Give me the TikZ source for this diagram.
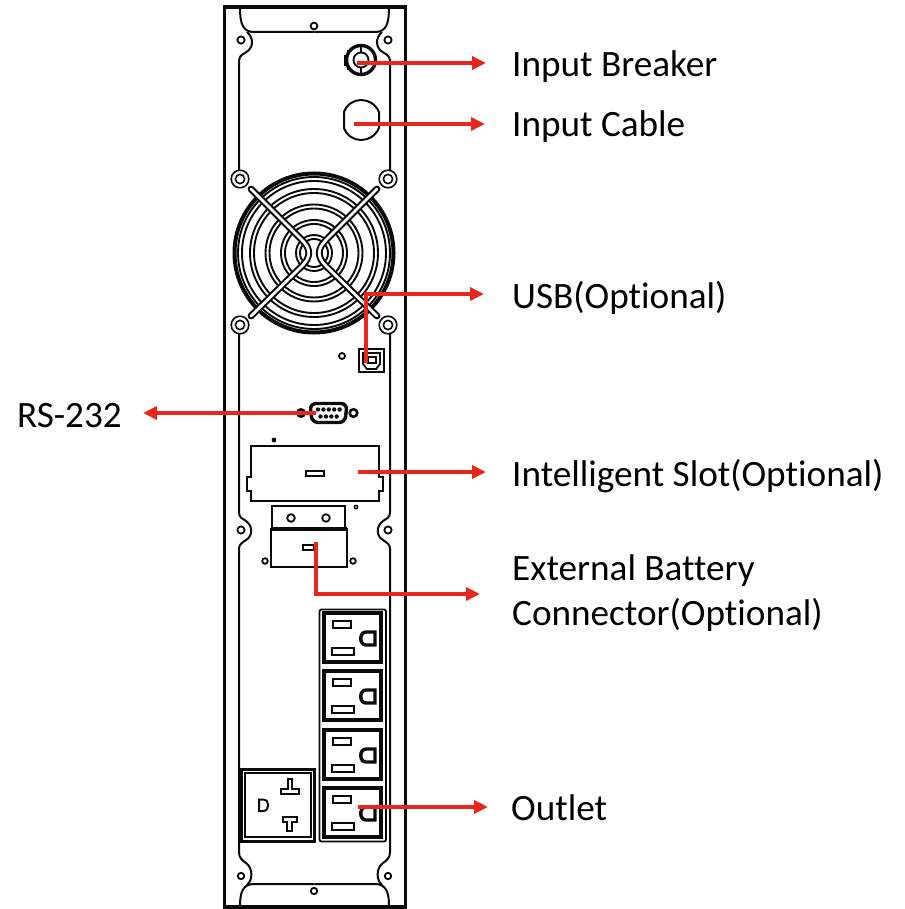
\documentclass[tikz,border=0pt]{standalone}
\usepackage{fontspec}
\setmainfont[Ligatures=NoCommon]{Carlito}
\usetikzlibrary{arrows.meta}
\definecolor{callout}{HTML}{E8261C}
\definecolor{ink}{HTML}{0A0A0A}
\tikzset{
  frameline/.style={draw=ink,line width=3.6pt},
  rail/.style={draw=ink,line width=2pt},
  thin part/.style={draw=ink,line width=1.8pt},
  heavy part/.style={draw=ink,line width=3.4pt},
  slot part/.style={draw=ink,line width=2.8pt},
  screw/.style={draw=ink,line width=1.8pt,fill=white},
  lbl/.style={inner sep=0pt,font=\fontsize{37.2}{45}\selectfont,align=left,text=black},
  callout line/.style={draw=callout,line width=3.6pt,-{Triangle[length=14pt,width=13pt]}},
}
\begin{document}
\begin{tikzpicture}[x=1pt,y=-1pt]
\useasboundingbox (0,0) rectangle (904,909);
% cabinet
\draw[frameline] (224.5,7) rectangle (405.5,907);
% mirrored rails and handles
\foreach \xs/\xo in {1/0,-1/629}{
\begin{scope}[xshift=\xo pt,xscale=\xs]
  \draw[rail] (240,8) .. controls (240,24) and (243,32) .. (254,32) -- (314.5,32);
  \draw[rail] (247,32) .. controls (254,38) and (254,48) .. (245,53) .. controls (241,55) and (239,57) .. (239,62) -- (239,170);
  \draw[rail] (239,332) -- (239,512) .. controls (239,518) and (242,518) .. (246,521) .. controls (253,526) and (253,536) .. (246,540) .. controls (242,543) and (239,544) .. (239,549) -- (239,852) .. controls (239,858) and (242,860) .. (246,863) .. controls (253,868) and (253,880) .. (247,885);
  \draw[rail] (240,906) .. controls (240,892) and (243,884) .. (254,884) -- (314.5,884);
  \draw[screw] (241,40) circle (3.6);
  \draw[screw] (241,530) circle (3.6);
  \draw[screw] (241,876) circle (3.2);
\end{scope}}
\draw[screw] (314,26) circle (3.4);
\draw[screw] (314,891) circle (3.2);
% breaker
\draw[heavy part] (361,60) circle (14.5);
\draw[thin part] (361,60) circle (7.5);
\draw[thin part] (361,45) -- (361,52.5) (361,67.5) -- (361,75);
\draw[thin part] (345,55) -- (345,66) (347.5,50) -- (347.5,70);
% cable gland
\draw[rail] (344,112) .. controls (350,96) and (372,96) .. (379,112) -- (379,128) .. controls (372,144) and (350,144) .. (344,128) -- cycle;
% fan
\foreach \a/\b in {240/179,388/179,240/325,388/325}{
  \draw[draw=ink,line width=1.6pt,fill=white] (\a,\b) circle (8.8);
  \draw[draw=ink,line width=1.6pt,fill=white] (\a,\b) circle (4.6);
}
\draw[draw=ink,line width=4pt,fill=white] (314,253) circle (79.5);
\foreach \r in {76,64,48.5,33,18}{
  \draw[draw=ink,line width=1.9pt] (314,253) circle (\r);
  \draw[draw=ink,line width=1.9pt] (314,253) circle (\r-4);
}
\foreach \xs/\xo in {1/0,-1/628}{
\begin{scope}[xshift=\xo pt,xscale=\xs]
  \path[draw=ink,line width=6.8pt,line cap=round] (251,189) -- (302,240) .. controls (311,249) and (311,257) .. (302,266) -- (251,316);
  \path[draw=white,line width=2.8pt,line cap=round] (251,189) -- (302,240) .. controls (311,249) and (311,257) .. (302,266) -- (251,316);
\end{scope}}
% USB
\draw[thin part,line width=2.4pt] (359,349) rectangle (384,372);
\draw[thin part] (363,353) -- (380,353) -- (380,364) -- (376,369) -- (367,369) -- (363,364) -- cycle;
\draw[thin part] (368,357) rectangle (376,363);
\draw[thin part] (342,356) circle (3);
% RS-232
\draw[draw=ink,line width=3.4pt,fill=white,rounded corners=6pt] (310,403.5) -- (347,403.5) -- (345,422.5) -- (312,422.5) -- cycle;
\foreach \i in {0,...,4}{\fill[ink] (318+\i*5.4,409.5) circle (2.2);}
\foreach \i in {0,...,3}{\fill[ink] (320.5+\i*5.4,416.5) circle (2.2);}
\fill[ink] (301,413) circle (5);
\fill[white] (301,413) circle (1);
\draw[draw=ink,line width=2.6pt] (353.5,413) circle (3.8);
% intelligent slot
\draw[thin part,line width=2.2pt] (251,446) -- (379,446) -- (379,477) -- (383,477) -- (383,491) -- (379,491) -- (379,501) -- (251,501) -- (251,491) -- (247,491) -- (247,477) -- (251,477) -- cycle;
\draw[thin part] (306,471) rectangle (324,476);
\fill[ink] (274,440) circle (2.4);
\fill[ink] (356,507) circle (2.4);
\fill[white] (356,507) circle (.8);
% battery connector
\draw[thin part,line width=2.2pt] (272,506) rectangle (345,528);
\draw[screw] (291,518) circle (3.8);
\draw[screw] (326,518) circle (3.8);
\draw[draw=ink,line width=2.6pt,fill=white] (271,529) rectangle (347,567);
\draw[draw=ink,line width=4pt] (271,529) -- (347,529);
\draw[thin part] (303,545) rectangle (314,550);
\draw[screw] (265,561) circle (2.8);
\draw[screw] (353,561) circle (2.8);
% outlets
\draw[thin part,rounded corners=2pt] (319.5,609.5) rectangle (386,841.5);
\foreach \oy in {613,671,730,788}{
\begin{scope}[shift={(324,\oy)}]
  \draw[heavy part] (0,0) rectangle (57,49);
  \draw[slot part] (9,8) rectangle (27,15);
  \draw[slot part] (8,35) rectangle (30,42);
  \draw[heavy part] (51,19) -- (42,19) .. controls (35,19) and (35,32) .. (42,32) -- (51,32) -- cycle;
\end{scope}}
% large socket
\draw[draw=ink,line width=3pt] (241,769) rectangle (314,841);
\draw[thin part,line width=1.5pt] (245,773) rectangle (311,837);
\draw[thin part,line width=2pt] (259,799.5) -- (263,799.5) .. controls (270,799.5) and (270,811) .. (263,811) -- (259,811) -- cycle;
\draw[thin part,line width=2pt] (287.5,778.5) -- (291.5,778.5) -- (291.5,788.5) -- (298.5,788.5) -- (298.5,793.5) -- (281,793.5) -- (281,788.5) -- (287.5,788.5) -- cycle;
\draw[thin part,line width=2pt] (283,816.5) -- (297,816.5) -- (297,821.5) -- (292,821.5) -- (292,831) -- (287,831) -- (287,821.5) -- (283,821.5) -- cycle;
% labels
\node[lbl,anchor=base west] (breaker) at (512,77) {Input Breaker};
\node[lbl,anchor=base west] (cable) at (512,137) {Input Cable};
\node[lbl,anchor=base west] (usb) at (512,308) {USB(Optional)};
\node[lbl,anchor=base west] (rs) at (17,427) {RS-232};
\node[lbl,anchor=base west] (slot) at (512,486) {Intelligent Slot(Optional)};
\node[lbl,anchor=west] (ext) at (512,593) {External Battery\\Connector(Optional)};
\node[lbl,anchor=base west] (outlet) at (511,820) {Outlet};
% callout starts
\coordinate (cBreaker) at (357,63);
\coordinate (cCable) at (354,124);
\coordinate (cUsb) at (366,363);
\coordinate (cUsbBend) at (366,294);
\coordinate (cRs) at (316,413);
\coordinate (cSlot) at (358,472);
\coordinate (cExt) at (316,542);
\coordinate (cExtBend) at (316,594);
\coordinate (cOutlet) at (358,807);
\draw[callout line,shorten >=26pt] (cBreaker) -- (cBreaker -| breaker.west);
\draw[callout line,shorten >=27pt] (cCable) -- (cCable -| cable.west);
\draw[callout line,shorten >=28pt] (cUsb) -- (cUsbBend) -- (cUsbBend -| usb.west);
\draw[callout line,shorten >=21pt] (cRs) -- (cRs -| rs.east);
\draw[callout line,shorten >=26pt] (cSlot) -- (cSlot -| slot.west);
\draw[callout line,shorten >=32pt] (cExt) -- (cExtBend) -- (cExtBend -| ext.west);
\draw[callout line,shorten >=23pt] (cOutlet) -- (cOutlet -| outlet.west);
\end{tikzpicture}
\end{document}
